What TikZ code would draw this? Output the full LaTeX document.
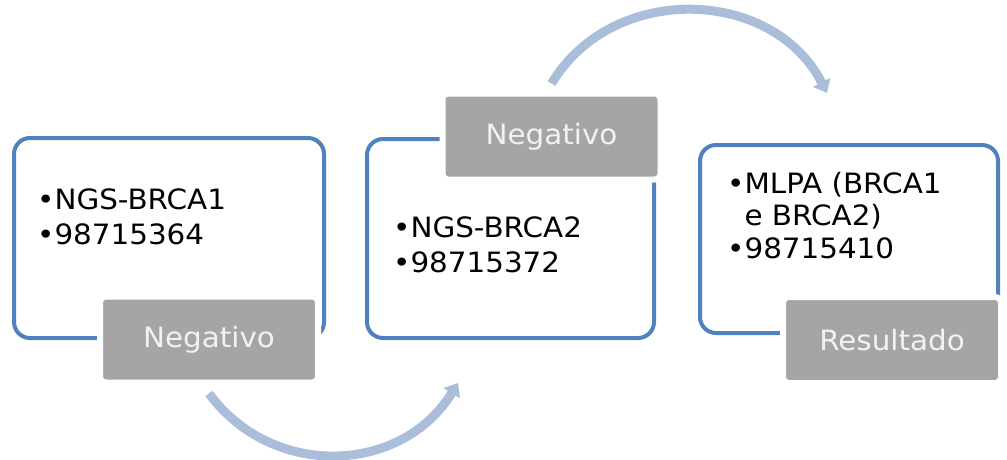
\documentclass[tikz,border=0pt]{standalone}
\usepackage{fontspec}
\setmainfont{DejaVu Sans}[FakeStretch=1.05]
\usetikzlibrary{arrows.meta}
\definecolor{outlineblue}{HTML}{4F81BD}
\definecolor{labelgray}{HTML}{A5A5A5}
\definecolor{arrowblue}{HTML}{AABEDA}
\begin{document}
\begin{tikzpicture}[x=1pt, y=-1pt,
    stepframe/.style={draw=outlineblue, line width=4pt, rounded corners=16pt, inner sep=0pt},
    steplabel/.style={fill=labelgray, draw=white, line width=6pt, rounded corners=6pt,
      minimum width=218pt, minimum height=86pt, inner sep=0pt, text=white!95!black,
      font=\fontsize{28}{34}\selectfont},
    steptext/.style={anchor=base west, inner sep=0pt, align=left,
      font=\fontsize{28}{35}\selectfont},
    steparrow/.style={draw=arrowblue, line width=9pt, -{Triangle[width=19pt,length=12pt]}}]
  \useasboundingbox (0,0) rectangle (1007,459);

  \node [stepframe, minimum width=310pt, minimum height=200pt] (frame1) at (169,238) {};
  \node [stepframe, minimum width=287pt, minimum height=199pt] (frame2) at (510.5,238.5) {};
  \node [stepframe, minimum width=298pt, minimum height=188pt] (frame3) at (849,239) {};

  \node [steptext] (text1) at (37,244) {•NGS-BRCA1\\•98715364};
  \node [steptext] (text2) at (393,272) {•NGS-BRCA2\\•98715372};
  \node [steptext, font=\fontsize{28}{32.5}\selectfont] (text3) at (727,258)
    {•MLPA (BRCA1\\\phantom{•}e BRCA2)\\•98715410};

  \node [steplabel] (label1) at (209,339.5) {Negativo};
  \node [steplabel] (label2) at (551.5,136.5) {Negativo};
  \node [steplabel] (label3) at (892,340) {Resultado};

  \coordinate (tip1) at (458,383);
  \coordinate (tip2) at (827,93);
  \draw [steparrow] ([yshift=-8pt]label1.south) to [bend right=56, looseness=1.1] (tip1);
  \draw [steparrow] ([yshift=7pt]label2.north) to [bend left=61, looseness=1.1] (tip2);
\end{tikzpicture}
\end{document}
